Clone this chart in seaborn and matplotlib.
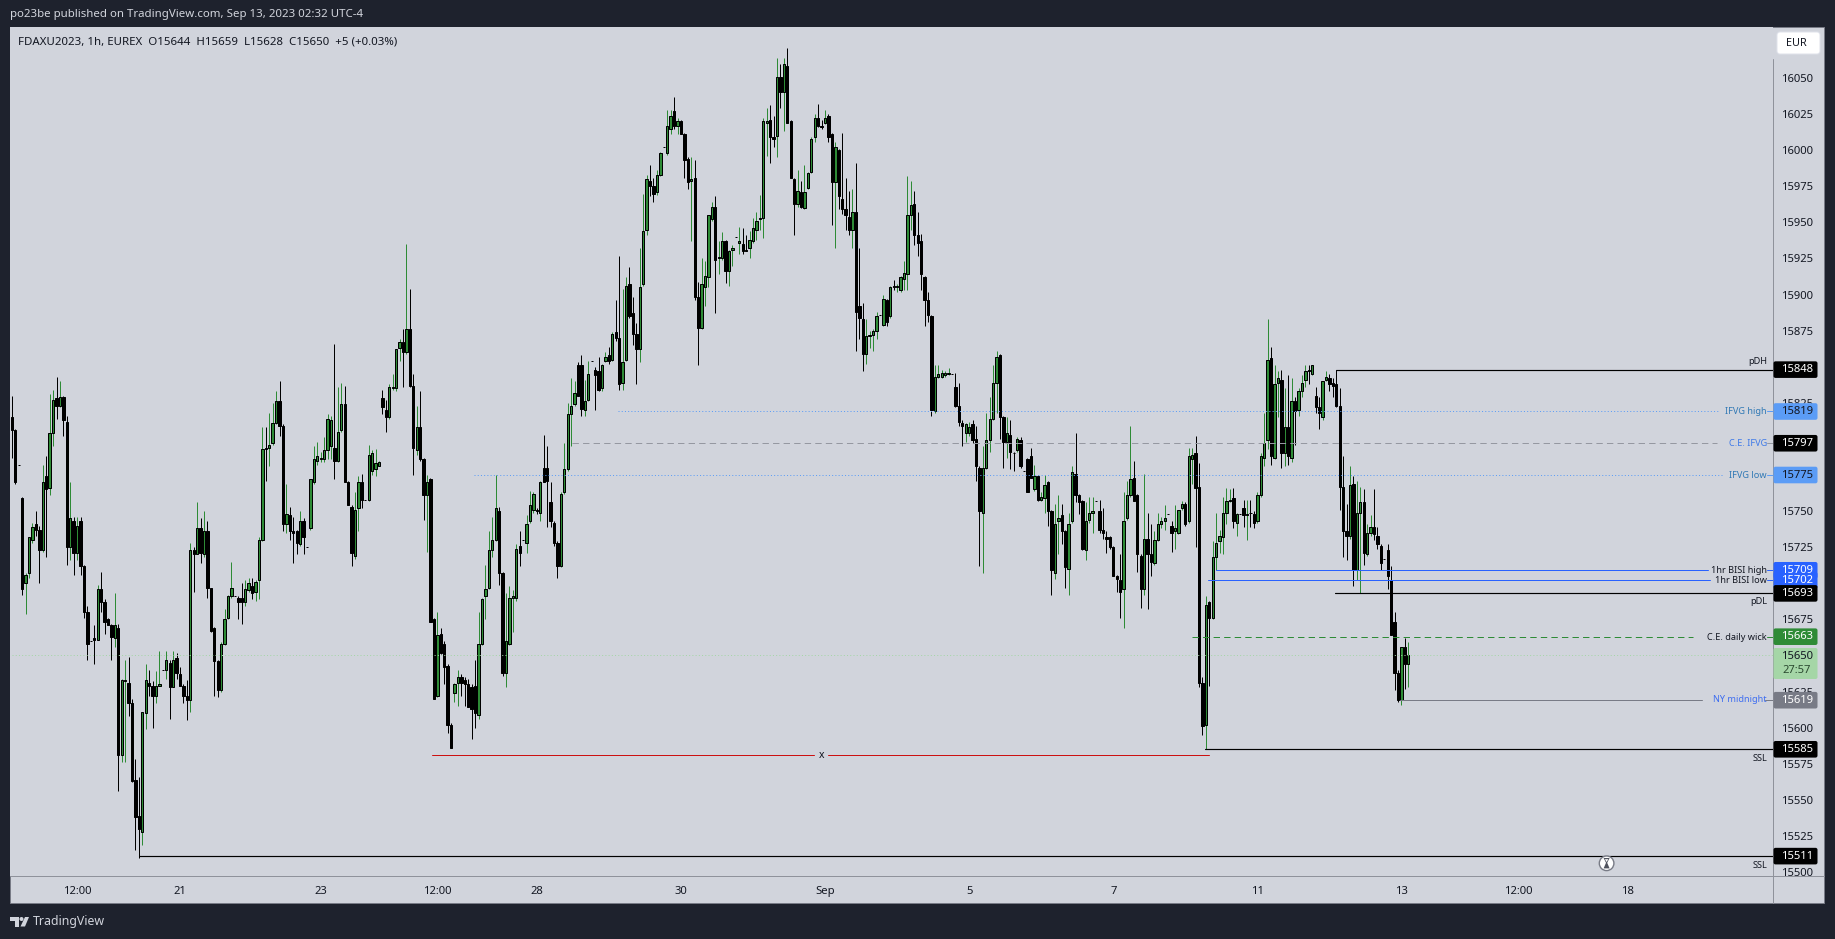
import numpy as np
import pandas as pd
import matplotlib
matplotlib.use("Agg")
import matplotlib.pyplot as plt
import seaborn as sns
from matplotlib.patches import FancyBboxPatch, Rectangle, Circle, Polygon
from matplotlib.lines import Line2D
from matplotlib.transforms import Affine2D

opens = [
15815,15806,15782,15759,15700,15707,15730,15741,15737,15723,
15774,15766,15804,15828,15823,15829,15812,15725,15743,15721,
15743,15712,15680,15660,15662,15661,15696,15687,15675,15671,
15662,15669,15581,15632,15631,15617,15564,15539,15528,15610,
15631,15629,15622,15629,15640,15640,15645,15628,15648,15637,
15629,15622,15619,15723,15720,15738,15720,15736,15697,15669,
15646,15626,15658,15676,15691,15691,15690,15690,15687,15695,
15698,15694,15702,15730,15794,15794,15797,15811,15826,15809,
15741,15747,15736,15736,15727,15743,15725,15738,15770,15785,
15786,15786,15792,15795,15794,15785,15806,15824,15770,15753,
15719,15752,15770,15758,15758,15778,15779,15781,15828,15820,
15815,15835,15835,15863,15867,15860,15876,15837,15792,15808,
15786,15761,15772,15675,15622,15665,15658,15643,15602,15624,
15631,15635,15633,15630,15628,15629,15609,15658,15691,15697,
15723,15730,15750,15707,15638,15658,15690,15690,15726,15730,
15728,15743,15751,15751,15749,15780,15780,15756,15742,15728,
15712,15763,15779,15817,15824,15851,15851,15820,15827,15854,
15848,15847,15835,15854,15858,15855,15874,15870,15839,15855,
15907,15887,15873,15862,15907,15945,15979,15975,15971,15983,
16002,15998,16015,16027,16017,16020,16011,15994,15979,15981,
15898,15877,15905,15912,15952,15961,15925,15925,15937,15916,
15931,15940,15936,15935,15931,15932,15937,15945,15952,15953,
16019,16021,16009,16010,16051,16040,16058,16020,15980,15963,
15971,15960,15974,15985,16009,16022,16017,16019,16024,16011,
15978,16000,15966,15959,15954,15945,15957,15892,15883,15859,
15871,15872,15875,15886,15879,15896,15885,15906,15905,15903,
15911,15914,15955,15963,15941,15937,15912,15896,15885,15819,
15843,15843,15844,15845,15845,15836,15823,15811,15804,15804,
15810,15800,15780,15749,15780,15799,15814,15839,15858,15815,
15798,15803,15790,15792,15799,15778,15786,15788,15765,15774,
15758,15759,15770,15750,15707,15743,15747,15736,15710,15743,
15776,15761,15757,15723,15744,15749,15757,15750,15737,15732,
15732,15725,15705,15702,15696,15745,15761,15773,15761,15719,
15696,15731,15720,15714,15730,15741,15743,15748,15740,15736,
15735,15752,15755,15743,15786,15790,15767,15631,15602,15687,
15676,15718,15729,15732,15749,15757,15759,15742,15748,15752,
15747,15749,15748,15743,15761,15787,15799,15856,15787,15839,
15841,15790,15808,15787,15826,15820,15833,15841,15848,15845,
15830,15822,15815,15841,15842,15839,15838,15823,15767,15736,
15733,15769,15709,15749,15756,15720,15735,15739,15733,15726,
15717,15723,15702,15673,15638,15619,15656,15644]

highs = [
15830,15807,15782,15760,15707,15732,15742,15750,15740,15782,
15788,15831,15834,15843,15840,15830,15816,15770,15746,15746,
15746,15713,15684,15660,15671,15699,15708,15689,15676,15672,
15693,15672,15634,15647,15649,15620,15578,15566,15611,15644,
15640,15632,15639,15653,15640,15653,15647,15653,15652,15642,
15630,15633,15728,15725,15756,15745,15750,15743,15697,15670,
15647,15659,15682,15692,15715,15691,15691,15700,15702,15704,
15704,15702,15732,15808,15808,15818,15825,15833,15840,15810,
15769,15753,15746,15737,15750,15745,15725,15772,15795,15798,
15791,15801,15817,15816,15866,15836,15839,15837,15771,15754,
15763,15774,15776,15758,15796,15792,15793,15785,15834,15827,
15838,15845,15862,15869,15876,15935,15904,15845,15823,15833,
15787,15775,15773,15676,15680,15669,15660,15644,15603,15631,
15640,15637,15635,15634,15630,15647,15680,15690,15713,15736,
15746,15775,15753,15708,15693,15698,15695,15727,15736,15730,
15747,15764,15763,15752,15771,15803,15795,15770,15743,15729,
15763,15797,15825,15842,15840,15853,15858,15841,15854,15854,
15850,15857,15852,15860,15864,15874,15896,15927,15904,15912,
15919,15898,15880,15932,15970,15983,15990,15981,15986,15999,
16002,16028,16028,16037,16022,16021,16012,15995,15995,15993,
15909,15925,15923,15955,15964,15968,15937,15943,15938,15931,
15934,15940,15947,15946,15941,15944,15953,15957,15969,16022,
16029,16031,16024,16064,16060,16064,16071,16021,15981,15986,
15979,15990,15985,16009,16025,16032,16021,16028,16025,16012,
16006,16001,16012,15981,15972,15973,15991,15932,15894,15883,
15875,15876,15888,15886,15900,15897,15906,15910,15907,15913,
15923,15982,15979,15972,15957,15942,15913,15902,15886,15851,
15851,15848,15847,15849,15845,15846,15839,15813,15811,15812,
15813,15809,15781,15795,15818,15829,15851,15861,15859,15816,
15815,15813,15791,15801,15801,15778,15787,15794,15782,15775,
15763,15775,15771,15751,15755,15761,15755,15737,15749,15781,
15804,15762,15758,15756,15760,15760,15757,15758,15752,15736,
15733,15726,15706,15720,15763,15771,15809,15785,15762,15720,
15776,15749,15741,15736,15749,15746,15754,15748,15743,15754,
15751,15757,15756,15794,15794,15802,15783,15635,15691,15688,
15729,15749,15737,15760,15766,15765,15766,15749,15748,15758,
15758,15758,15750,15763,15790,15818,15883,15864,15851,15847,
15848,15835,15844,15842,15829,15835,15844,15851,15851,15851,
15836,15829,15840,15847,15845,15842,15848,15835,15788,15755,
15781,15774,15771,15767,15765,15741,15747,15765,15739,15727,
15717,15727,15712,15680,15640,15656,15662,15659]

lows = [
15787,15769,15782,15692,15679,15704,15728,15733,15700,15722,
15718,15761,15795,15814,15822,15802,15713,15716,15706,15716,
15706,15676,15647,15660,15644,15661,15680,15665,15671,15647,
15656,15556,15576,15576,15608,15562,15515,15510,15519,15599,
15622,15600,15617,15629,15640,15634,15606,15628,15634,15629,
15617,15605,15611,15694,15720,15714,15718,15690,15666,15622,
15621,15625,15657,15675,15690,15691,15675,15672,15684,15694,
15689,15688,15689,15729,15771,15781,15796,15810,15802,15736,
15735,15730,15714,15720,15726,15720,15725,15737,15769,15782,
15784,15784,15786,15786,15772,15784,15805,15770,15754,15712,
15717,15736,15752,15758,15757,15775,15774,15781,15817,15805,
15814,15834,15833,15854,15836,15859,15836,15775,15789,15785,
15744,15722,15673,15620,15621,15651,15630,15596,15586,15618,
15615,15622,15615,15614,15592,15600,15606,15657,15675,15696,
15718,15729,15699,15636,15628,15657,15666,15688,15712,15730,
15721,15742,15749,15748,15743,15770,15739,15739,15726,15704,
15711,15762,15778,15795,15823,15830,15816,15816,15826,15854,
15820,15833,15833,15853,15852,15854,15868,15834,15834,15854,
15884,15865,15838,15853,15906,15941,15968,15964,15969,15982,
16002,15997,16011,16015,16011,16011,15981,15973,15937,15896,
15851,15876,15892,15905,15951,15887,15914,15924,15908,15906,
15920,15940,15928,15928,15930,15925,15936,15938,15945,15939,
15996,15991,16002,15995,16029,16013,16019,15981,15941,15961,
15960,15959,15973,15984,16006,16016,16015,16018,16006,15948,
15932,15959,15956,15945,15941,15932,15861,15869,15847,15852,
15863,15861,15869,15886,15878,15878,15884,15903,15902,15902,
15903,15903,15945,15934,15927,15903,15878,15881,15816,15818,
15842,15842,15843,15844,15845,15822,15809,15795,15798,15802,
15797,15771,15712,15707,15779,15791,15813,15818,15800,15780,
15787,15779,15778,15791,15780,15778,15763,15773,15764,15757,
15757,15749,15740,15692,15703,15720,15727,15697,15692,15742,
15756,15748,15723,15716,15742,15735,15757,15735,15731,15721,
15724,15705,15694,15676,15669,15744,15760,15757,15708,15683,
15692,15682,15705,15713,15729,15738,15737,15748,15722,15724,
15734,15751,15740,15742,15769,15725,15628,15595,15585,15629,
15675,15709,15721,15720,15741,15756,15738,15733,15748,15739,
15730,15739,15738,15742,15760,15781,15793,15782,15786,15815,
15780,15781,15782,15784,15796,15816,15829,15836,15838,15844,
15818,15807,15813,15840,15833,15829,15822,15751,15718,15716,
15731,15698,15702,15693,15713,15719,15733,15730,15724,15709,
15717,15696,15664,15626,15618,15616,15627,15628]

closes = [
15806,15770,15782,15696,15706,15732,15739,15737,15723,15770,
15765,15804,15827,15823,15829,15813,15725,15745,15721,15740,
15712,15680,15658,15660,15661,15696,15687,15673,15671,15663,
15671,15581,15633,15633,15617,15563,15538,15530,15611,15633,
15629,15622,15629,15630,15640,15647,15628,15647,15638,15629,
15622,15619,15723,15720,15738,15721,15736,15697,15667,15646,
15626,15658,15675,15691,15697,15691,15687,15687,15696,15700,
15693,15701,15730,15793,15793,15796,15811,15826,15809,15741,
15748,15736,15735,15728,15743,15732,15725,15772,15786,15788,
15787,15792,15814,15813,15785,15805,15824,15770,15754,15721,
15751,15770,15758,15758,15789,15790,15783,15784,15822,15815,
15836,15836,15862,15867,15860,15876,15837,15794,15808,15786,
15761,15770,15673,15620,15664,15652,15642,15602,15586,15630,
15635,15631,15630,15614,15613,15610,15658,15689,15696,15723,
15730,15752,15707,15638,15660,15690,15691,15724,15721,15730,
15741,15754,15762,15750,15770,15770,15771,15743,15728,15712,
15762,15779,15817,15823,15832,15830,15821,15826,15845,15854,
15844,15834,15851,15857,15854,15873,15870,15838,15853,15906,
15885,15873,15862,15905,15944,15980,15975,15970,15983,15998,
16002,16017,16024,16017,16020,16011,15993,15978,15980,15898,
15877,15907,15913,15955,15961,15924,15926,15937,15916,15930,
15932,15940,15937,15930,15930,15938,15946,15951,15953,16020,
16020,16009,16008,16051,16040,16060,16019,15981,15963,15972,
15961,15971,15984,16008,16022,16017,16016,16022,16009,15978,
16002,15968,15959,15955,15945,15957,15888,15884,15859,15871,
15872,15875,15885,15886,15897,15881,15905,15905,15906,15912,
15915,15955,15962,15941,15936,15914,15896,15886,15820,15843,
15845,15846,15846,15846,15845,15823,15812,15809,15810,15808,
15799,15781,15750,15780,15799,15814,15839,15857,15815,15798,
15804,15791,15790,15800,15781,15778,15763,15773,15774,15758,
15760,15768,15750,15709,15741,15745,15736,15711,15741,15777,
15761,15756,15724,15743,15749,15750,15757,15737,15735,15731,
15725,15705,15703,15694,15743,15761,15772,15757,15720,15696,
15731,15720,15715,15730,15741,15743,15745,15748,15735,15738,
15751,15755,15741,15788,15789,15766,15631,15601,15685,15676,
15718,15728,15733,15749,15757,15758,15743,15748,15748,15747,
15748,15749,15742,15761,15788,15797,15855,15788,15838,15842,
15790,15808,15788,15826,15819,15833,15839,15847,15847,15851,
15822,15818,15840,15843,15838,15837,15823,15767,15736,15733,
15768,15709,15749,15756,15721,15735,15739,15734,15727,15714,
15717,15705,15664,15638,15619,15656,15644,15650]

time_ticks = [19, 49, 90, 124, 153, 195, 237, 279, 321, 363, 405, 439, 471]
time_labels = ["12:00", "21", "23", "12:00", "28", "30", "Sep", "5", "7", "11", "13", "12:00", "18"]
price_ticks = list(range(15500, 16051, 25))

BG, DARK, FG = "#d1d4dc", "#1e222d", "#131722"
GREEN, BLUE, SKY, GREY = "#2e8b36", "#2962ff", "#5b9cf6", "#787b86"

sns.set_theme(style="white")
plt.rcParams["font.family"] = ["Noto Sans", "DejaVu Sans"]
plt.rcParams["lines.scale_dashes"] = False

W, H = 1835, 939
fig = plt.figure(figsize=(W / 100, H / 100), dpi=100, facecolor=DARK)
ax = fig.add_axes([10 / W, (H - 876) / H, (1773 - 10) / W, (876 - 27) / H], facecolor=BG, zorder=1)

df = pd.DataFrame({"bar": np.arange(len(opens)), "o": opens, "h": highs, "l": lows, "c": closes})
df["bottom"] = df[["o", "c"]].min(axis=1)
df["body"] = (df["c"] - df["o"]).abs()
df["up"] = df["c"] > df["o"]
df["down"] = ~df["up"]

PX = 0.72
up, down = df[df.up], df[df.down]
ax.vlines(up.bar, up.l, up.h, color=GREEN, lw=PX, zorder=2)
ax.vlines(down.bar, down.l, down.h, color="black", lw=PX, zorder=2)
for part, col in ((up, GREEN), (down, "black")):
    sns.barplot(data=part, x="bar", y="body", bottom=part["bottom"].to_numpy(), native_scale=True,
                color=col, saturation=1, edgecolor="black", linewidth=PX, width=0.68,
                errorbar=None, zorder=3, ax=ax)

x_to_bar = lambda x: (x - 11.9) / 3.431
ax.set_xlim(x_to_bar(10), x_to_bar(1773))
ax.set_ylim(15500 + (872 - 876) / 1.4436, 15500 + (872 - 27) / 1.4436)
ax.set_xlabel("")
ax.set_ylabel("")
for s in ax.spines.values():
    s.set_visible(False)
ax.yaxis.tick_right()
ax.set_yticks(price_ticks)
ax.set_yticklabels([str(p) for p in price_ticks])
ax.set_xticks(time_ticks)
ax.set_xticklabels(time_labels)
ax.tick_params(axis="y", length=0, pad=6, labelsize=8.1, labelcolor=FG, right=False)
ax.tick_params(axis="x", length=0, pad=7, labelsize=8.1, labelcolor=FG, bottom=False)
ax.get_xticklabels()[6].set_fontweight("bold")
ax.grid(False)

DOT = (0, (0.72, 1.6))
DASH = (0, (4.6, 3.0))
# level, start bar, end bar, colour, style
levels = [
    (15848, 386, 513.5, "black", "-"),
    (15819, 176.7, 497.8, SKY, DOT),
    (15819, 511.5, 513.5, SKY, "-"),
    (15797, 163.2, 497, "#9598a1", DASH),
    (15797, 511.5, 513.5, "#9598a1", "-"),
    (15775, 134.7, 498.7, SKY, DOT),
    (15775, 511.5, 513.5, SKY, "-"),
    (15709, 350.9, 494.3, BLUE, "-"),
    (15709, 511.5, 513.5, BLUE, "-"),
    (15702, 348.6, 495, BLUE, "-"),
    (15702, 511.5, 513.5, BLUE, "-"),
    (15693, 385.6, 513.5, "black", "-"),
    (15663, 344, 490, GREEN, DASH),
    (15663, 511.5, 513.5, GREEN, "-"),
    (15619, 404.6, 492.6, GREY, "-"),
    (15619, 511, 513.5, GREY, "-"),
    (15585, 347.8, 513.5, "black", "-"),
    (15511, 37, 513.5, "black", "-"),
    (15581, 122.5, 233.8, "#cc1111", "-"),
    (15581, 237.9, 349, "#cc1111", "-"),
    (15650, 0, 513.5, "#a5d6a7", DOT),
]
for y, a, b, col, ls in levels:
    ax.plot([a, b], [y, y], color=col, lw=PX if col != "black" else 0.85, ls=ls, zorder=4)
ax.text(235.9, 15581, "x", ha="center", va="center", fontsize=7.5, color=FG, zorder=5)

fig.canvas.draw()
disp = Affine2D().scale(1, -1).translate(0, H)
py = lambda p: H - ax.transData.transform((0, p))[1]

def fig_text(x, y, s, **kw):
    kw.setdefault("transform", disp)
    kw.setdefault("va", "center")
    kw.setdefault("color", FG)
    fig.text(x, y, s, **kw)

# panel frame
fig.add_artist(Rectangle((10, 27), 1814, 876, transform=disp, fc=BG, ec=GREY, lw=PX, zorder=0))
for seg in [((1773, 1773), (59, 903)), ((10, 1824), (876, 876))]:
    fig.add_artist(Line2D(seg[0], seg[1], transform=disp, color="#8f929b", lw=PX, zorder=3))

fig_text(10, 15, "po23be published on TradingView.com, Sep 13, 2023 02:32 UTC-4", color=BG, fontsize=8.25)
fig_text(18, 42, "FDAXU2023, 1h, EUREX  O15644  H15659  L15628  C15650  +5 (+0.03%)", color=FG, fontsize=8.25, zorder=6)

# right-hand labels on the lines
labels = [("pDH", 362, FG), ("IFVG high", 411.7, "#3179b5"), ("C.E. IFVG", 443.5, "#3f7ae8"), ("IFVG low", 475.5, "#3179b5"),
          ("1hr BISI high", 570.5, FG), ("1hr BISI low", 580.5, FG), ("pDL", 602, FG), ("C.E. daily wick", 637, FG),
          ("NY midnight", 700, "#3f6ef0"), ("SSL", 758.7, FG), ("SSL", 866, FG)]
for s, y, col in labels:
    fig_text(1767, y, s, ha="right", color=col, fontsize=6.6, zorder=6)

# price tags
tags = [(15848, "black", "white"), (15819, SKY, FG), (15797, "black", "white"), (15775, SKY, FG),
        (15709, BLUE, "white"), (15702, BLUE, "white"), (15693, "black", "white"), (15663, GREEN, "white"),
        (15619, GREY, "white"), (15585, "black", "white"), (15511, "black", "white")]
for p, fc, tc in tags:
    y = py(p)
    fig.add_artist(FancyBboxPatch((1773.5, y - 8.3), 44, 16.6, boxstyle="round,pad=0,rounding_size=2",
                                  transform=disp, fc=fc, ec="none", zorder=5))
    fig_text(1796.7, y, str(p), ha="center", color=tc, fontsize=8.1, fontweight="medium", zorder=6)
fig.add_artist(FancyBboxPatch((1773.5, 648), 44, 31, boxstyle="round,pad=0,rounding_size=2",
                              transform=disp, fc="#a5d6a7", ec="none", zorder=5))
fig_text(1796.7, 656.5, "15650", ha="center", fontsize=8.1, zorder=6)
fig_text(1796.7, 670.5, "27:57", ha="center", fontsize=8.1, color="#2b4a30", zorder=6)

# currency button
fig.add_artist(FancyBboxPatch((1777, 32), 43, 22, boxstyle="round,pad=0,rounding_size=3",
                              transform=disp, fc="white", ec="#e0e3eb", lw=PX, zorder=5))
fig_text(1796.7, 43.5, "EUR", ha="center", fontsize=7.8, zorder=6)

# hourglass marker
fig.add_artist(Circle((1606.6, 863.3), 7.3, transform=disp, fc="white", ec=GREY, lw=1, zorder=5))
fig.add_artist(Polygon([(1603.6, 858), (1609.6, 858), (1607.2, 862.8), (1609.6, 868.4), (1603.6, 868.4), (1606, 862.8)],
                       transform=disp, fc="#50535e", ec="none", zorder=6))
fig.add_artist(Polygon([(1604.9, 859.2), (1608.3, 859.2), (1606.6, 862)], transform=disp, fc="white", ec="none", zorder=7))

# brand footer
LOGO = "#d1d4dc"
fig.add_artist(Polygon([(10, 917), (19, 917), (19, 926.5), (15, 926.5), (15, 921), (10, 921)], transform=disp, fc=LOGO, ec="none", zorder=5))
fig.add_artist(Circle((21.5, 919), 2, transform=disp, fc=LOGO, ec="none", zorder=5))
fig.add_artist(Polygon([(25, 917), (29, 917), (25, 926.5), (20.5, 926.5)], transform=disp, fc=LOGO, ec="none", zorder=5))
fig_text(33, 921.5, "TradingView", color=LOGO, fontsize=8.9)

fig.savefig("out.png", dpi=100, facecolor=DARK)
